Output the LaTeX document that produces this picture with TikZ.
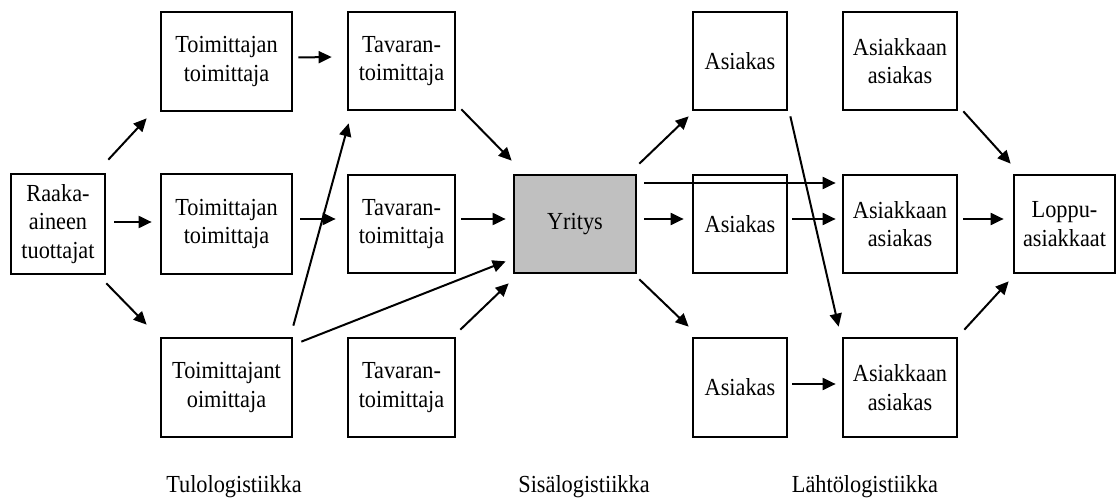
\documentclass[tikz,border=0pt]{standalone}
\usepackage{fontspec}
\setmainfont[FakeStretch=0.91]{Liberation Serif}
\usetikzlibrary{arrows.meta,calc}
\begin{document}
\begin{tikzpicture}[x=1pt,y=-1pt,
  box/.style={draw,line width=2.7pt,inner sep=0pt,align=center,
    font=\fontsize{24.5}{28.5}\selectfont},
  arr/.style={line width=2pt,-{Triangle[length=13pt,width=12pt]}},
  lbl/.style={font=\fontsize{24.5}{28.5}\selectfont,inner sep=0pt}]
\useasboundingbox (0,0) rectangle (1117,500);
% nodes
\node[box,minimum width=94pt,minimum height=100pt] (raaka) at (58,224) {Raaka-\\aineen\\tuottajat};
\node[box,minimum width=131pt,minimum height=99pt] (tt1) at (226.5,61.5) {Toimittajan\\toimittaja};
\node[box,minimum width=131pt,minimum height=100pt] (tt2) at (226.5,224) {Toimittajan\\toimittaja};
\node[box,minimum width=131pt,minimum height=99pt] (tt3) at (226.5,387.5) {Toimittajant\\oimittaja};
\node[box,minimum width=107pt,minimum height=98pt] (tv1) at (401.5,61) {Tavaran-\\toimittaja};
\node[box,minimum width=107pt,minimum height=98pt] (tv2) at (401.5,224) {Tavaran-\\toimittaja};
\node[box,minimum width=107pt,minimum height=99pt] (tv3) at (401.5,387.5) {Tavaran-\\toimittaja};
\node[box,fill={rgb,255:red,192;green,192;blue,192},minimum width=122pt,minimum height=98pt] (yr) at (575,224) {Yritys};
\node[box,minimum width=94pt,minimum height=98pt] (as1) at (740,61) {Asiakas};
\node[box,minimum width=94pt,minimum height=98pt] (as2) at (740,224) {Asiakas};
\node[box,minimum width=94pt,minimum height=99pt] (as3) at (740,387.5) {Asiakas};
\node[box,minimum width=114pt,minimum height=98pt] (aa1) at (900,61) {Asiakkaan\\asiakas};
\node[box,minimum width=114pt,minimum height=98pt] (aa2) at (900,224) {Asiakkaan\\asiakas};
\node[box,minimum width=114pt,minimum height=99pt] (aa3) at (900,387.5) {Asiakkaan\\asiakas};
\node[box,minimum width=101pt,minimum height=98pt] (lo) at (1064.5,224) {Loppu-\\asiakkaat};
% labels
\node[lbl] (l1) at (234,487) {Tulologistiikka};
\node[lbl] (l2) at (584,487) {Sisälogistiikka};
\node[lbl] (l3) at (865,487) {Lähtölogistiikka};
% arrows
\draw[arr] ($(raaka.north east)+(2,-13)$) -- ($(tt1.south west)+(-13,6)$);
\draw[arr] ($(raaka.east)+(8,-2)$) -- ($(tt2.west)+(-8,-2)$);
\draw[arr] ($(raaka.south east)+(0,8)$) -- ($(tt3.north west)+(-13,-12)$);
\draw[arr] ($(tt1.east)+(5,-4)$) -- ($(tv1.west)+(-15,-4)$);
\draw[arr] ($(tt2.east)+(7,-5)$) -- ($(tv2.west)+(-11,-5)$);
\draw[arr] ($(tt3.north east)+(0,-11)$) -- ($(tv1.south west)+(2,12)$);
\draw[arr] ($(tt3.north east)+(8,5)$) -- ($(yr.south west)+(-7,-13)$);
\draw[arr] ($(tv1.south east)+(5,-2)$) -- ($(yr.north west)+(-1,-13)$);
\draw[arr] ($(tv2.east)+(5,-5)$) -- ($(yr.west)+(-7,-5)$);
\draw[arr] ($(tv3.north east)+(4,-7)$) -- ($(yr.south west)+(-4,9)$);
\draw[arr] ($(yr.north east)+(2,-10)$) -- ($(as1.south west)+(-3,5)$);
\draw[arr] ($(yr.east)+(7,-41)$) -- ($(aa2.west)+(-6,-41)$);
\draw[arr] ($(yr.east)+(7,-5)$) -- ($(as2.west)+(-8,-5)$);
\draw[arr] ($(yr.south east)+(2,5)$) -- ($(as3.north west)+(-3,-10)$);
\draw[arr] ($(as1.south east)+(2,5)$) -- ($(aa3.north west)+(-3,-10)$);
\draw[arr] ($(as2.east)+(4,-5)$) -- ($(aa2.west)+(-6,-5)$);
\draw[arr] ($(as3.east)+(4,-3.5)$) -- ($(aa3.west)+(-6,-3.5)$);
\draw[arr] ($(aa1.south east)+(5,0)$) -- ($(lo.north west)+(-2,-10)$);
\draw[arr] ($(aa2.east)+(5,-5)$) -- ($(lo.west)+(-9,-5)$);
\draw[arr] ($(aa3.north east)+(6,-7)$) -- ($(lo.south west)+(-4,7)$);
\end{tikzpicture}
\end{document}
